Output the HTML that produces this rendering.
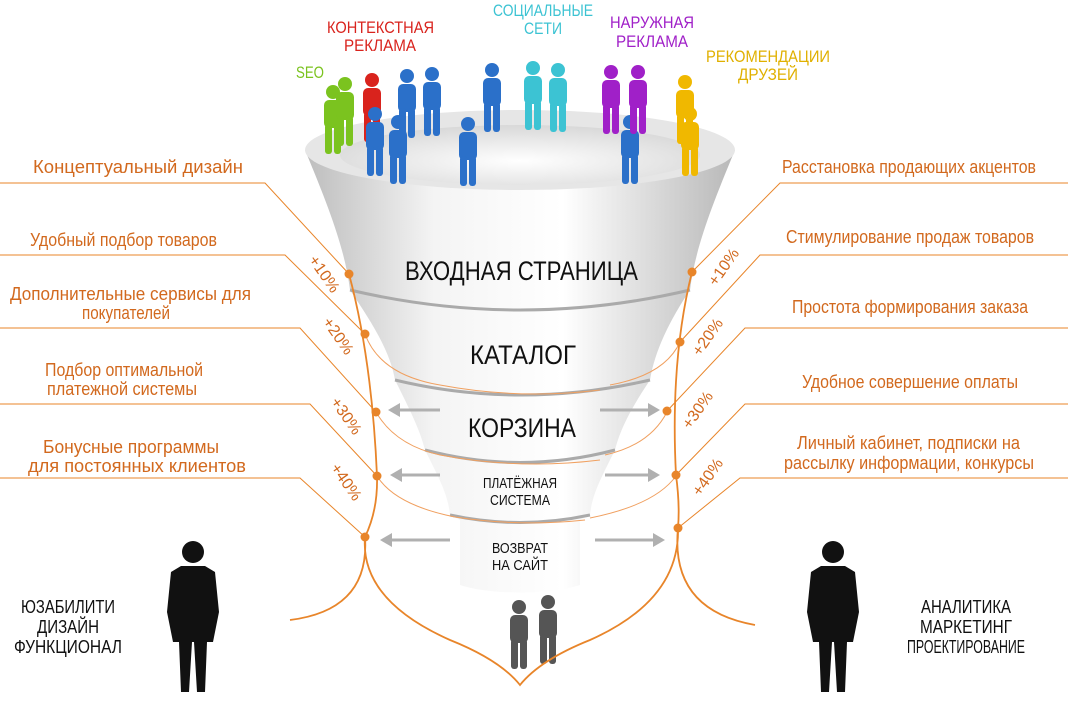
<!DOCTYPE html>
<html><head><meta charset="utf-8"><style>
body{margin:0;background:#fff;}
svg{display:block;font-family:"Liberation Sans","Noto Sans CJK SC",sans-serif;}
.l{font-size:18px;fill:#d2691e;}
.p{font-size:16px;fill:#d2691e;}
.t{font-size:27px;fill:#111;}
</style></head><body>
<svg width="1068" height="706" viewBox="0 0 1068 706">
<defs>
<linearGradient id="fg" x1="0" x2="1">
<stop offset="0" stop-color="#bdbdbd"/><stop offset="0.3" stop-color="#f4f4f4"/><stop offset="0.6" stop-color="#fff"/><stop offset="1" stop-color="#b8b8b8"/></linearGradient>
<radialGradient id="in" cx="0.5" cy="0.6" r="0.6"><stop offset="0" stop-color="#fff"/><stop offset="1" stop-color="#d8d8d8"/></radialGradient>
<g id="p"><circle cx="0" cy="-8" r="7"/><rect x="-9" y="0" width="18" height="28" rx="5"/><rect x="-8" y="24" width="7" height="30" rx="3"/><rect x="1" y="24" width="7" height="30" rx="3"/></g>
<g id="man" fill="#111"><circle cx="0" cy="0" r="11"/><path d="M-12 14 L12 14 L22 20 L26 60 L20 90 L14 90 L12 140 L4 140 L1 90 L-1 90 L-4 140 L-12 140 L-14 90 L-20 90 L-26 60 L-22 20Z"/></g>
</defs>
<path d="M305 150 C330 210 345 250 350 290 C370 320 390 350 395 380 C410 410 420 430 425 450 C440 480 448 495 450 515 L460 520 L460 585 C490 595 550 595 580 585 L580 520 L590 515 C592 495 600 480 615 450 C620 430 630 410 650 380 C655 350 670 320 690 290 C695 250 710 210 735 150Z" fill="url(#fg)"/>
<ellipse cx="520" cy="150" rx="215" ry="40" fill="#e6e6e6"/>
<ellipse cx="520" cy="155" rx="180" ry="30" fill="url(#in)"/>
<path d="M350 290 Q520 330 690 290" fill="none" stroke="#aaa" stroke-width="3"/>
<path d="M395 380 Q520 410 650 380" fill="none" stroke="#aaa" stroke-width="3"/>
<path d="M425 450 Q520 475 615 450" fill="none" stroke="#aaa" stroke-width="3"/>
<path d="M450 515 Q520 530 590 515" fill="none" stroke="#aaa" stroke-width="3"/>
<g stroke="#f0a060" stroke-width="1" fill="none">
<path d="M365 334 Q380 375 440 385 Q520 400 600 390"/>
<path d="M376 412 Q395 445 440 455 Q520 470 600 460"/>
<path d="M377 476 Q395 505 455 517 Q520 527 585 520"/>
<path d="M680 342 Q665 375 610 385"/>
<path d="M667 412 Q650 445 605 455"/>
<path d="M676 476 Q655 505 590 518"/>
</g>
<text class="t" x="405" y="280" textLength="233" lengthAdjust="spacingAndGlyphs">ВХОДНАЯ СТРАНИЦА</text>
<text class="t" x="470" y="364" textLength="106" lengthAdjust="spacingAndGlyphs">КАТАЛОГ</text>
<text class="t" x="468" y="437" textLength="108" lengthAdjust="spacingAndGlyphs">КОРЗИНА</text>
<text x="520" y="488" font-size="15" text-anchor="middle" fill="#111" textLength="74" lengthAdjust="spacingAndGlyphs">ПЛАТЁЖНАЯ</text>
<text x="520" y="505" font-size="15" text-anchor="middle" fill="#111" textLength="60" lengthAdjust="spacingAndGlyphs">СИСТЕМА</text>
<text x="520" y="553" font-size="15" text-anchor="middle" fill="#111" textLength="56" lengthAdjust="spacingAndGlyphs">ВОЗВРАТ</text>
<text x="520" y="570" font-size="15" text-anchor="middle" fill="#111" textLength="56" lengthAdjust="spacingAndGlyphs">НА САЙТ</text>
<g fill="#7bc31f"><use href="#p" x="333" y="100"/><use href="#p" x="345" y="92"/></g>
<g fill="#d9231d"><use href="#p" x="372" y="88"/></g>
<g fill="#2b70c9"><use href="#p" x="407" y="84"/><use href="#p" x="375" y="122"/><use href="#p" x="398" y="130"/><use href="#p" x="468" y="132"/><use href="#p" x="492" y="78"/><use href="#p" x="630" y="130"/><use href="#p" x="432" y="82"/></g>
<g fill="#3cc3d3"><use href="#p" x="533" y="76"/><use href="#p" x="558" y="78"/></g>
<g fill="#a020c8"><use href="#p" x="611" y="80"/><use href="#p" x="638" y="80"/></g>
<g fill="#f0b800"><use href="#p" x="685" y="90"/><use href="#p" x="690" y="122"/></g>
<g fill="#555"><use href="#p" x="519" y="615"/><use href="#p" x="548" y="610"/></g>
<text x="296" y="78" font-size="17" fill="#7bc31f" textLength="28" lengthAdjust="spacingAndGlyphs">SEO</text>
<text x="327" y="33" font-size="17" fill="#d9231d" textLength="107" lengthAdjust="spacingAndGlyphs">КОНТЕКСТНАЯ</text>
<text x="344" y="51" font-size="17" fill="#d9231d" textLength="72" lengthAdjust="spacingAndGlyphs">РЕКЛАМА</text>
<text x="493" y="16" font-size="17" fill="#3cc3d3" textLength="100" lengthAdjust="spacingAndGlyphs">СОЦИАЛЬНЫЕ</text>
<text x="524" y="34" font-size="17" fill="#3cc3d3" textLength="38" lengthAdjust="spacingAndGlyphs">СЕТИ</text>
<text x="610" y="28" font-size="17" fill="#a020c8" textLength="84" lengthAdjust="spacingAndGlyphs">НАРУЖНАЯ</text>
<text x="616" y="47" font-size="17" fill="#a020c8" textLength="72" lengthAdjust="spacingAndGlyphs">РЕКЛАМА</text>
<text x="706" y="62" font-size="17" fill="#e0b000" textLength="124" lengthAdjust="spacingAndGlyphs">РЕКОМЕНДАЦИИ</text>
<text x="738" y="80" font-size="17" fill="#e0b000" textLength="60" lengthAdjust="spacingAndGlyphs">ДРУЗЕЙ</text>
<g stroke="#e8852a" stroke-width="1" fill="none">
<polyline points="0,183 265,183 349,274"/>
<polyline points="0,255 285,255 365,334"/>
<polyline points="0,328 300,328 376,412"/>
<polyline points="0,404 310,404 377,476"/>
<polyline points="0,478 300,478 365,537"/>
<polyline points="1068,183 780,183 692,272"/>
<polyline points="1068,255 760,255 680,342"/>
<polyline points="1068,328 745,328 667,411"/>
<polyline points="1068,404 745,404 676,475"/>
<polyline points="1068,478 740,478 678,528"/>
<path d="M349 274 Q372 360 377 476 Q378 510 365 537 Q370 610 290 620 M365 537 Q360 600 450 640 Q500 660 520 685 Q540 660 590 640 Q680 600 678 528 Q670 610 755 625 M692 272 Q670 360 676 475 Q680 505 678 528" stroke-width="1.8"/>
</g>
<g fill="#e8852a"><circle cx="349" cy="274" r="4.5"/><circle cx="365" cy="334" r="4.5"/><circle cx="376" cy="412" r="4.5"/><circle cx="377" cy="476" r="4.5"/><circle cx="365" cy="537" r="4.5"/>
<circle cx="692" cy="272" r="4.5"/><circle cx="680" cy="342" r="4.5"/><circle cx="667" cy="411" r="4.5"/><circle cx="676" cy="475" r="4.5"/><circle cx="678" cy="528" r="4.5"/></g>
<g stroke="#b0b0b0" stroke-width="3" fill="#b0b0b0">
<line x1="440" y1="410" x2="395" y2="410"/><polygon points="388,410 400,403 400,417" stroke="none"/>
<line x1="440" y1="475" x2="398" y2="475"/><polygon points="390,475 402,468 402,482" stroke="none"/>
<line x1="450" y1="540" x2="390" y2="540"/><polygon points="380,540 392,533 392,547" stroke="none"/>
<line x1="600" y1="410" x2="652" y2="410"/><polygon points="660,410 648,403 648,417" stroke="none"/>
<line x1="605" y1="475" x2="652" y2="475"/><polygon points="660,475 648,468 648,482" stroke="none"/>
<line x1="595" y1="540" x2="655" y2="540"/><polygon points="665,540 653,533 653,547" stroke="none"/>
</g>
<g>
<text transform="translate(308,260) rotate(55)" class="p">+10%</text>
<text transform="translate(322,322) rotate(55)" class="p">+20%</text>
<text transform="translate(330,402) rotate(55)" class="p">+30%</text>
<text transform="translate(330,468) rotate(55)" class="p">+40%</text>
<text transform="translate(716,287) rotate(-55)" class="p">+10%</text>
<text transform="translate(700,357) rotate(-55)" class="p">+20%</text>
<text transform="translate(690,430) rotate(-55)" class="p">+30%</text>
<text transform="translate(700,497) rotate(-55)" class="p">+40%</text>
</g>
<g>
<text class="l" x="33" y="173" textLength="210" lengthAdjust="spacingAndGlyphs">Концептуальный дизайн</text>
<text class="l" x="30" y="246" textLength="187" lengthAdjust="spacingAndGlyphs">Удобный подбор товаров</text>
<text class="l" x="10" y="300" textLength="241" lengthAdjust="spacingAndGlyphs">Дополнительные сервисы для</text>
<text class="l" x="82" y="319" textLength="88" lengthAdjust="spacingAndGlyphs">покупателей</text>
<text class="l" x="45" y="376" textLength="158" lengthAdjust="spacingAndGlyphs">Подбор оптимальной</text>
<text class="l" x="47" y="395" textLength="150" lengthAdjust="spacingAndGlyphs">платежной системы</text>
<text class="l" x="43" y="453" textLength="176" lengthAdjust="spacingAndGlyphs">Бонусные программы</text>
<text class="l" x="28" y="472" textLength="218" lengthAdjust="spacingAndGlyphs">для постоянных клиентов</text>
<text class="l" x="782" y="173" textLength="254" lengthAdjust="spacingAndGlyphs">Расстановка продающих акцентов</text>
<text class="l" x="786" y="243" textLength="248" lengthAdjust="spacingAndGlyphs">Стимулирование продаж товаров</text>
<text class="l" x="792" y="313" textLength="236" lengthAdjust="spacingAndGlyphs">Простота формирования заказа</text>
<text class="l" x="802" y="388" textLength="216" lengthAdjust="spacingAndGlyphs">Удобное совершение оплаты</text>
<text class="l" x="797" y="449" textLength="223" lengthAdjust="spacingAndGlyphs">Личный кабинет, подписки на</text>
<text class="l" x="784" y="469" textLength="250" lengthAdjust="spacingAndGlyphs">рассылку информации, конкурсы</text>
</g>
<use href="#man" x="193" y="552"/>
<use href="#man" x="833" y="552"/>
<g font-size="18" fill="#111" text-anchor="middle">
<text x="68" y="613" textLength="94" lengthAdjust="spacingAndGlyphs">ЮЗАБИЛИТИ</text><text x="68" y="633" textLength="62" lengthAdjust="spacingAndGlyphs">ДИЗАЙН</text><text x="68" y="653" textLength="108" lengthAdjust="spacingAndGlyphs">ФУНКЦИОНАЛ</text>
<text x="966" y="613" textLength="90" lengthAdjust="spacingAndGlyphs">АНАЛИТИКА</text><text x="966" y="633" textLength="92" lengthAdjust="spacingAndGlyphs">МАРКЕТИНГ</text><text x="966" y="653" textLength="118" lengthAdjust="spacingAndGlyphs">ПРОЕКТИРОВАНИЕ</text>
</g>
</svg>
</body></html>
